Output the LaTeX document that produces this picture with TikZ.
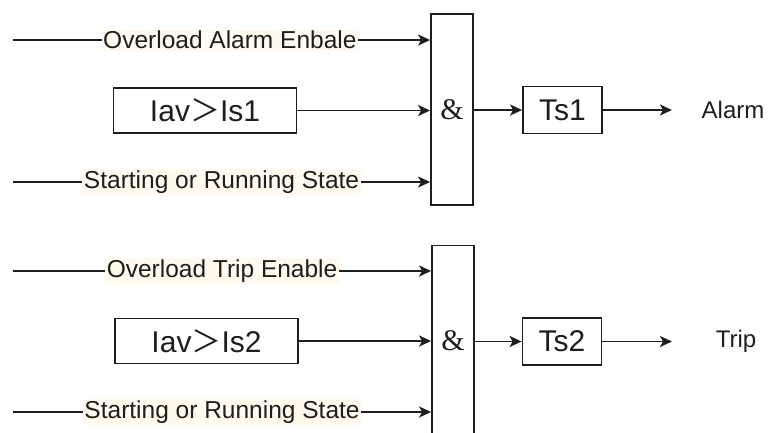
\documentclass[tikz,border=0pt]{standalone}
\usepackage{fontspec}
\setmainfont{Liberation Sans}
\newfontfamily\cjk{Noto Sans CJK SC}
\newfontfamily\ampfont{Liberation Serif}
\usetikzlibrary{arrows.meta}
\definecolor{logicInk}{RGB}{30,30,30}
\definecolor{labelCream}{RGB}{255,249,238}

\begin{document}
\begin{tikzpicture}[x=1pt,y=-1pt,color=logicInk,line width=1.8pt,
    conn/.style={-{Stealth[length=12pt,width=11pt,inset=3pt]}},
    cmpbox/.style={draw,minimum width=183pt,minimum height=45pt,inner sep=0pt,font=\fontsize{30}{36}\selectfont},
    andbox/.style={draw,minimum width=42pt,minimum height=191pt,inner sep=0pt,font=\ampfont\fontsize{30}{34}\selectfont},
    delaybox/.style={draw,minimum width=79pt,minimum height=47pt,inner sep=0pt,font=\fontsize{30}{36}\selectfont},
    siglabel/.style={fill=labelCream,inner sep=1.5pt,font=\fontsize{24.5}{29}\selectfont},
    outlabel/.style={font=\fontsize{24}{29}\selectfont}]
  \useasboundingbox (0,0) rectangle (771,432);
  \clip (0,0) rectangle (771,432);

  % alarm stage
  \node[andbox] (and1) at (452,109.5) {\&};
  \node[cmpbox] (cmp1) at (205,110.5) {Iav{\cjk ＞}Is1};
  \node[delaybox] (ts1) at (562.5,110) {Ts1};
  \node[outlabel] (alarm) at (733,110) {Alarm};
  \coordinate (en1) at (13,40);
  \coordinate (run1) at (13,182);
  \coordinate (out1) at (672,110);
  \draw[conn] (en1) -- node[siglabel,pos=.52] {Overload Alarm Enbale} (en1 -| and1.west);
  \draw[conn] (cmp1.east) -- (cmp1.east -| and1.west);
  \draw[conn] (run1) -- node[siglabel] {Starting or Running State} (run1 -| and1.west);
  \draw[conn] (and1.east |- ts1) -- (ts1.west);
  \draw[conn] (ts1.east) -- (out1);

  % trip stage
  \node[andbox] (and2) at (453,341) {\&};
  \node[cmpbox] (cmp2) at (206.5,341) {Iav{\cjk ＞}Is2};
  \node[delaybox] (ts2) at (562,341.5) {Ts2};
  \node[outlabel] (trip) at (736,341) {Trip};
  \coordinate (en2) at (13,271);
  \coordinate (run2) at (13,412);
  \coordinate (out2) at (672,341.5);
  \draw[conn] (en2) -- node[siglabel] {Overload Trip Enable} (en2 -| and2.west);
  \draw[conn] (cmp2.east) -- (cmp2.east -| and2.west);
  \draw[conn] (run2) -- node[siglabel] {Starting or Running State} (run2 -| and2.west);
  \draw[conn] (and2.east |- ts2) -- (ts2.west);
  \draw[conn] (ts2.east) -- (out2);
\end{tikzpicture}
\end{document}
